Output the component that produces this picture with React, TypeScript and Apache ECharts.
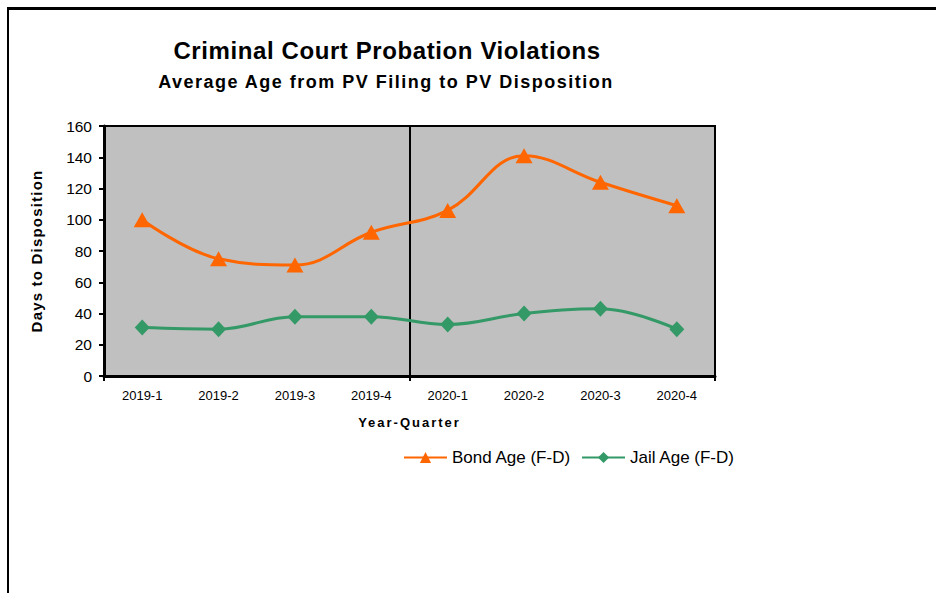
import React, { useEffect, useRef } from "react";
import * as echarts from "echarts";

const categories = ["2019-1", "2019-2", "2019-3", "2019-4", "2020-1", "2020-2", "2020-3", "2020-4"];
const bondAge = [100, 75, 71, 92, 106, 141, 124, 109];
const jailAge = [31, 30, 38, 38, 33, 40, 43, 30];
const yTicks = { min: 0, max: 160, interval: 20 };
// year-group boundaries along the category axis (in category units)
const yearBoundary = { min: 0, max: 8, interval: 4 };

const TITLE = "Criminal Court Probation Violations";
const SUBTITLE = "Average Age from PV Filing to PV Disposition";
const X_NAME = "Year-Quarter";
const Y_NAME = "Days to Disposition";

const FONT = "'Liberation Sans', Arial, sans-serif";

const SPACING: Record<string, string> = {
  [TITLE]: "0.6px",
  [SUBTITLE]: "1.5px",
  [X_NAME]: "2px",
  [Y_NAME]: "1.2px",
};

export default function App() {
  const ref = useRef<HTMLDivElement>(null);
  useEffect(() => {
    if (!ref.current) return;
    const el = ref.current;
    const chart = echarts.init(el, undefined, { renderer: "svg" });
    const applySpacing = () => {
      el.querySelectorAll("text").forEach((t) => {
        const s = SPACING[(t.textContent || "").trim()];
        if (s) t.setAttribute("letter-spacing", s);
      });
    };
    chart.on("finished", applySpacing);
    chart.setOption({
      animation: false,
      backgroundColor: "#ffffff",
      textStyle: { fontFamily: FONT, color: "#000" },
      title: [
        {
          text: TITLE,
          left: 382,
          top: 33,
          textAlign: "center",
          textStyle: { fontSize: 24, fontWeight: "bold", color: "#000", fontFamily: FONT },
        },
        {
          text: SUBTITLE,
          left: 381,
          top: 68,
          textAlign: "center",
          textStyle: { fontSize: 18, fontWeight: "bold", color: "#000", fontFamily: FONT },
        },
      ],
      graphic: [
        { type: "line", shape: { x1: 7, y1: 8.5, x2: 936, y2: 8.5 }, style: { stroke: "#000", lineWidth: 3 } },
        { type: "line", shape: { x1: 8, y1: 7, x2: 8, y2: 593 }, style: { stroke: "#000", lineWidth: 2 } },
      ],
      legend: {
        left: 398,
        top: 444,
        itemWidth: 43,
        itemHeight: 14,
        itemGap: 10,
        textStyle: { fontSize: 17, color: "#000", fontFamily: FONT },
        data: ["Bond Age (F-D)", "Jail Age (F-D)"],
      },
      grid: {
        left: 104,
        top: 126,
        right: 221,
        bottom: 217,
        show: true,
        backgroundColor: "#C0C0C0",
        borderColor: "#000",
        borderWidth: 2,
      },
      xAxis: [
        {
          type: "category",
          data: categories,
          boundaryGap: true,
          name: X_NAME,
          nameLocation: "middle",
          nameGap: 40,
          nameTextStyle: { fontSize: 13, fontWeight: "bold", color: "#000", fontFamily: FONT },
          axisLine: { lineStyle: { color: "#000", width: 3 } },
          axisTick: { show: false },
          axisLabel: { interval: 0, fontSize: 13, color: "#000", margin: 13, fontFamily: FONT },
          splitLine: { show: false },
        },
        {
          type: "value",
          position: "bottom",
          min: yearBoundary.min,
          max: yearBoundary.max,
          interval: yearBoundary.interval,
          axisLine: { show: false },
          axisTick: { show: true, length: 5, lineStyle: { color: "#000", width: 2 } },
          axisLabel: { show: false },
          splitLine: { show: true, lineStyle: { color: "#000", width: 2 } },
        },
      ],
      yAxis: {
        type: "value",
        min: yTicks.min,
        max: yTicks.max,
        interval: yTicks.interval,
        name: Y_NAME,
        nameLocation: "middle",
        nameGap: 60,
        nameTextStyle: { fontSize: 15, fontWeight: "bold", color: "#000", fontFamily: FONT },
        axisLine: { show: true, lineStyle: { color: "#000", width: 3 } },
        axisTick: { show: true, length: 5, lineStyle: { color: "#000", width: 2 } },
        axisLabel: { fontSize: 15.5, color: "#000", margin: 12, fontFamily: FONT },
        splitLine: { show: false },
      },
      series: [
        {
          name: "Bond Age (F-D)",
          type: "line",
          xAxisIndex: 0,
          data: bondAge,
          smooth: 0.4,
          symbol: "triangle",
          symbolSize: [17, 15],
          lineStyle: { color: "#FF6600", width: 3 },
          itemStyle: { color: "#FF6600" },
        },
        {
          name: "Jail Age (F-D)",
          type: "line",
          xAxisIndex: 0,
          data: jailAge,
          smooth: 0.4,
          symbol: "diamond",
          symbolSize: [15, 16],
          lineStyle: { color: "#339966", width: 3 },
          itemStyle: { color: "#339966" },
        },
      ],
    });
    applySpacing();
    const timer = setTimeout(applySpacing, 50);
    return () => {
      clearTimeout(timer);
      chart.dispose();
    };
  }, []);
  return <div ref={ref} style={{ position: "absolute", left: 0, top: 0, width: 936, height: 593 }} />;
}
